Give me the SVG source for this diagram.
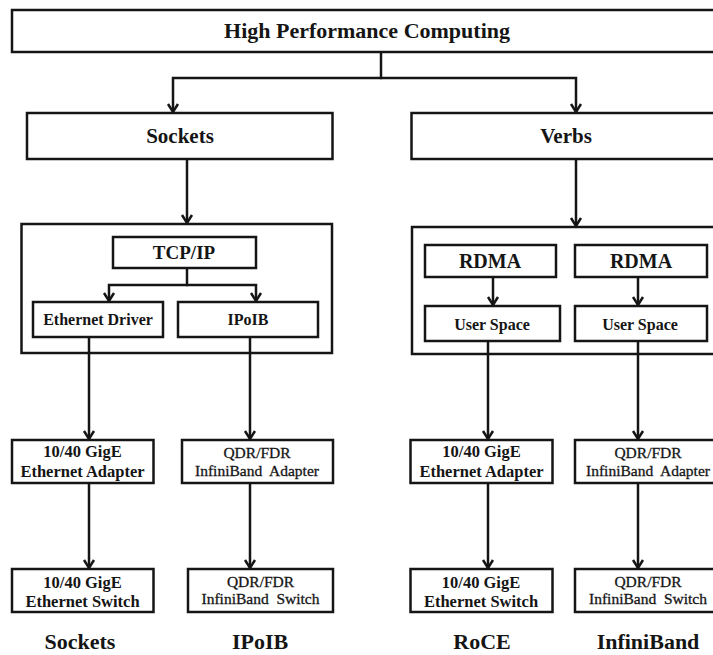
<svg xmlns="http://www.w3.org/2000/svg" width="713" height="655" viewBox="0 0 713 655">
<style>
  .box { fill: #fff; stroke: #151515; stroke-width: 2.5; }
  .con { fill: none; stroke: #151515; stroke-width: 2.5; }
  text { font-family: "Liberation Serif", "Times New Roman", serif; fill: #151515; text-anchor: middle; }
  .b { font-weight: bold; }
  .t22 { font-size: 22px; }
  .t21 { font-size: 21px; }
  .t19 { font-size: 19px; }
  .t20 { font-size: 20px; }
  .t17 { font-size: 16.5px; }
  .t16 { font-size: 16px; }
  .q { font-size: 15.5px; font-weight: normal; stroke: #151515; stroke-width: 0.3; }
</style>
<defs>
  <marker id="ah" markerUnits="userSpaceOnUse" markerWidth="14" markerHeight="14" viewBox="-11 -7 14 14" refX="0" refY="0" orient="auto" overflow="visible">
    <path d="M-8,-5 L0,0 L-8,5" fill="none" stroke="#151515" stroke-width="2.5"/>
  </marker>
</defs>
<rect width="713" height="655" fill="#fff"/>

<g id="containers">
  <g id="sockets-stack"><rect class="box" x="21.5" y="224" width="310.5" height="129"/></g>
  <g id="verbs-stack"><rect class="box" x="412" y="227" width="310" height="127"/></g>
</g>

<g id="connectors">
  <path class="con" d="M381,52 V78"/>
  <path class="con" d="M382,78 H173 V112" marker-end="url(#ah)"/>
  <path class="con" d="M380,78 H576 V112" marker-end="url(#ah)"/>
  <path class="con" d="M187,159 V223" marker-end="url(#ah)"/>
  <path class="con" d="M576,159 V226" marker-end="url(#ah)"/>
  <path class="con" d="M187,268 V285"/>
  <path class="con" d="M188,285 H109 V301" marker-end="url(#ah)"/>
  <path class="con" d="M186,285 H256 V301" marker-end="url(#ah)"/>
  <path class="con" d="M493,277 V305" marker-end="url(#ah)"/>
  <path class="con" d="M638,277 V305" marker-end="url(#ah)"/>
  <path class="con" d="M89,337 V439" marker-end="url(#ah)"/>
  <path class="con" d="M250,337 V439" marker-end="url(#ah)"/>
  <path class="con" d="M488,341 V439" marker-end="url(#ah)"/>
  <path class="con" d="M638,341 V439" marker-end="url(#ah)"/>
  <path class="con" d="M89,483 V568" marker-end="url(#ah)"/>
  <path class="con" d="M250,483 V568" marker-end="url(#ah)"/>
  <path class="con" d="M488,483 V568" marker-end="url(#ah)"/>
  <path class="con" d="M638,483 V568" marker-end="url(#ah)"/>
</g>

<g id="hpc"><rect class="box" x="12" y="10" width="710" height="42"/><text class="b t22" x="367" y="38">High Performance Computing</text></g>
<g id="sockets"><rect class="box" x="27" y="113" width="305.5" height="46"/><text class="b t21" x="180" y="143">Sockets</text></g>
<g id="verbs"><rect class="box" x="411.5" y="113" width="310" height="46"/><text class="b t21" x="566" y="143">Verbs</text></g>

<g id="tcpip"><rect class="box" x="113" y="237" width="143" height="31"/><text class="b t19" x="184" y="259">TCP/IP</text></g>
<g id="eth-driver"><rect class="box" x="33" y="302" width="130" height="35"/><text class="b t16" x="98" y="325">Ethernet Driver</text></g>
<g id="ipoib"><rect class="box" x="178" y="302" width="140" height="35"/><text class="b t16" x="248" y="325">IPoIB</text></g>

<g id="rdma1"><rect class="box" x="425" y="245" width="131" height="32"/><text class="b t20" x="490" y="268">RDMA</text></g>
<g id="rdma2"><rect class="box" x="575" y="245" width="132" height="32"/><text class="b t20" x="641" y="268">RDMA</text></g>
<g id="user1"><rect class="box" x="425" y="306" width="135" height="35"/><text class="b t16" x="492" y="330">User Space</text></g>
<g id="user2"><rect class="box" x="575" y="306" width="132" height="35"/><text class="b t16" x="640" y="330">User Space</text></g>

<g id="eth-adapter1"><rect class="box" x="12" y="440" width="141.5" height="43"/><text class="b t17" x="82.5" y="457">10/40 GigE</text><text class="b t17" x="82.5" y="477">Ethernet Adapter</text></g>
<g id="ib-adapter1"><rect class="box" x="182" y="440" width="151" height="43"/><text class="q" x="257" y="458">QDR/FDR</text><text class="q" x="257" y="476" xml:space="preserve">InfiniBand  Adapter</text></g>
<g id="eth-adapter2"><rect class="box" x="410.5" y="440" width="142" height="43"/><text class="b t17" x="481.5" y="457">10/40 GigE</text><text class="b t17" x="481.5" y="477">Ethernet Adapter</text></g>
<g id="ib-adapter2"><rect class="box" x="575" y="440" width="150" height="43"/><text class="q" x="648" y="458">QDR/FDR</text><text class="q" x="648" y="476" xml:space="preserve">InfiniBand  Adapter</text></g>

<g id="eth-switch1"><rect class="box" x="12" y="569" width="141.5" height="43"/><text class="b t17" x="82.5" y="588">10/40 GigE</text><text class="b t17" x="82.5" y="607">Ethernet Switch</text></g>
<g id="ib-switch1"><rect class="box" x="188" y="569" width="145" height="43"/><text class="q" x="260.5" y="587">QDR/FDR</text><text class="q" x="260.5" y="604" xml:space="preserve">InfiniBand  Switch</text></g>
<g id="eth-switch2"><rect class="box" x="410.5" y="569" width="142" height="43"/><text class="b t17" x="481" y="588">10/40 GigE</text><text class="b t17" x="481" y="607">Ethernet Switch</text></g>
<g id="ib-switch2"><rect class="box" x="575" y="569" width="150" height="43"/><text class="q" x="648" y="587">QDR/FDR</text><text class="q" x="648" y="604" xml:space="preserve">InfiniBand  Switch</text></g>

<g id="labels">
  <text class="b t22" x="80" y="649">Sockets</text>
  <text class="b t22" x="260" y="649">IPoIB</text>
  <text class="b t22" x="482" y="649">RoCE</text>
  <text class="b t22" x="648" y="649">InfiniBand</text>
</g>
</svg>
